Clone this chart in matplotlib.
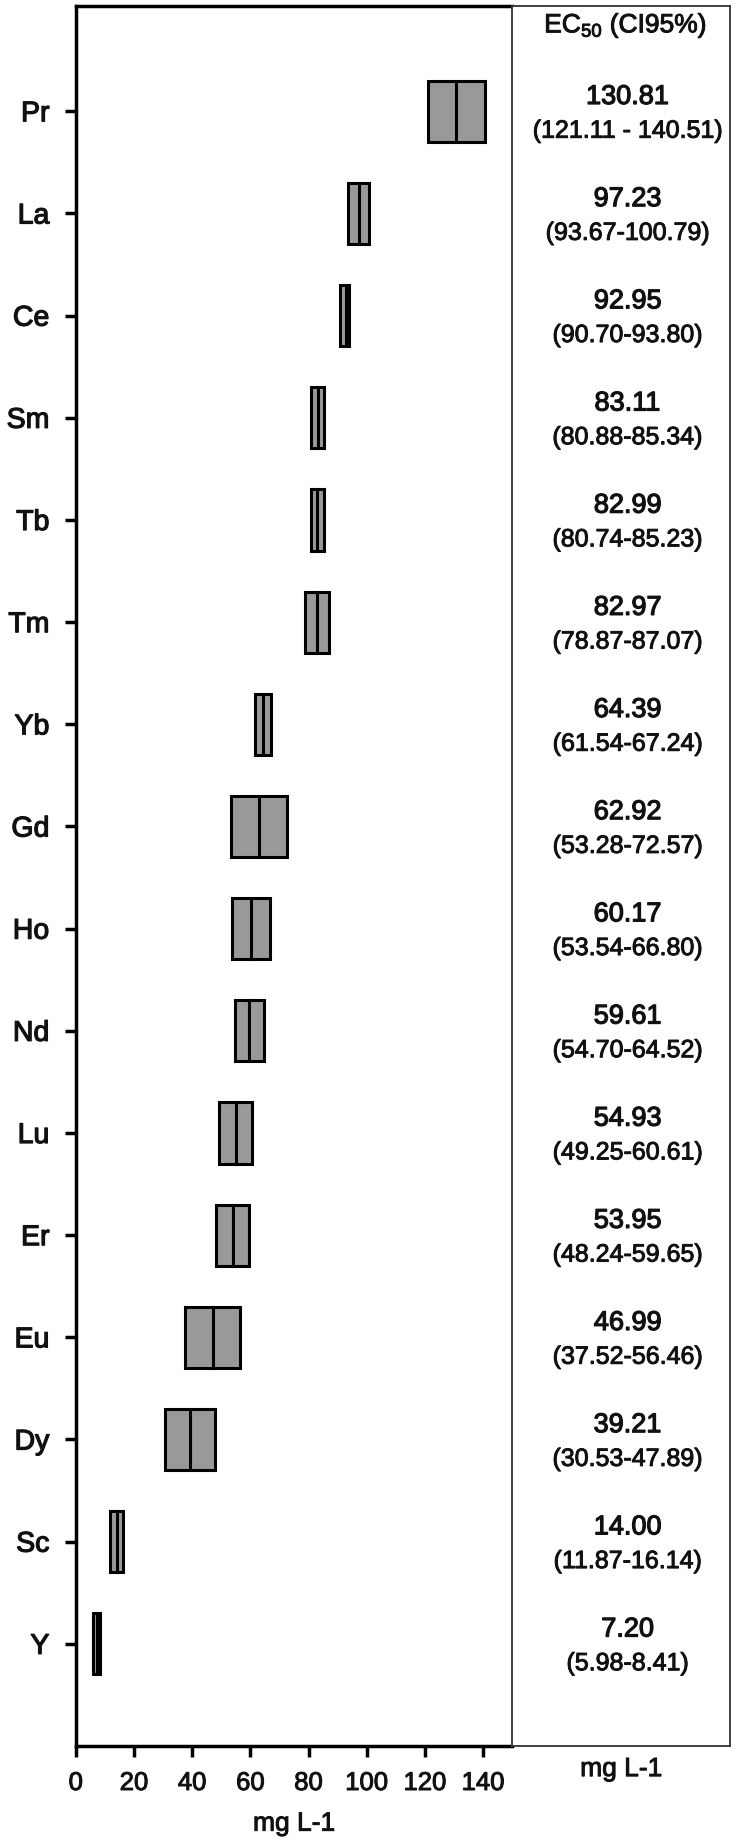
import matplotlib.pyplot as plt
import matplotlib.patheffects as pe
from matplotlib.patches import Rectangle

plt.rcParams["font.family"] = ["Liberation Sans", "DejaVu Sans"]
plt.rcParams["mathtext.fontset"] = "custom"
plt.rcParams["mathtext.rm"] = "Liberation Sans"

# ======================= Data (top to bottom) ==========================
elements = ["Pr", "La", "Ce", "Sm", "Tb", "Tm", "Yb", "Gd",
            "Ho", "Nd", "Lu", "Er", "Eu", "Dy", "Sc", "Y"]
ec50 = [130.81, 97.23, 92.95, 83.11, 82.99, 82.97, 64.39, 62.92,
        60.17, 59.61, 54.93, 53.95, 46.99, 39.21, 14.00, 7.20]
ci_low = [121.11, 93.67, 90.70, 80.88, 80.74, 78.87, 61.54, 53.28,
          53.54, 54.70, 49.25, 48.24, 37.52, 30.53, 11.87, 5.98]
ci_high = [140.51, 100.79, 93.80, 85.34, 85.23, 87.07, 67.24, 72.57,
           66.80, 64.52, 60.61, 59.65, 56.46, 47.89, 16.14, 8.41]
ci_labels = ["(121.11 - 140.51)", "(93.67-100.79)", "(90.70-93.80)",
             "(80.88-85.34)", "(80.74-85.23)", "(78.87-87.07)",
             "(61.54-67.24)", "(53.28-72.57)", "(53.54-66.80)",
             "(54.70-64.52)", "(49.25-60.61)", "(48.24-59.65)",
             "(37.52-56.46)", "(30.53-47.89)", "(11.87-16.14)",
             "(5.98-8.41)"]

n = len(elements)
ypos = [n - 1 - i for i in range(n)]
box_h = 0.6

# slightly heavier glyphs, like the scanned original
heavy = [pe.withStroke(linewidth=0.9, foreground="#111111")]
medium = [pe.withStroke(linewidth=0.7, foreground="#111111")]

fig = plt.figure(figsize=(7.36, 18.41), dpi=100)
ax = fig.add_axes([0.103, 0.0516, 0.593, 0.9451])
panel = fig.add_axes([0.696, 0.0516, 0.296, 0.9451])

# ---------------- boxes ----------------
for y, lo, hi, mid in zip(ypos, ci_low, ci_high, ec50):
    ax.add_patch(Rectangle((lo, y - box_h / 2), hi - lo, box_h,
                           facecolor="#999999", edgecolor="black", lw=2.2))
    ax.plot([mid, mid], [y - box_h / 2, y + box_h / 2], color="black", lw=2.2)

ax.set_xlim(0, 150)
ax.set_ylim(-1.0, n - 1 + 1.03)
ax.set_xticks(range(0, 141, 20))
ax.set_yticks(ypos)
ax.set_yticklabels(elements)
ax.tick_params(axis="y", length=8, width=2.5, pad=11, labelsize=20.5,
               labelcolor="#111111")
ax.tick_params(axis="x", length=8, width=2.5, pad=10, labelsize=18.5,
               labelcolor="#111111")
for tick in ax.yaxis.get_major_ticks():
    tick.label1.set_path_effects(heavy)
for tick in ax.xaxis.get_major_ticks():
    tick.label1.set_path_effects(medium)
ax.set_xlabel("mg L-1", fontsize=19, labelpad=12, color="#111111",
              path_effects=medium)
for side in ["left", "bottom", "top"]:
    ax.spines[side].set_linewidth(2.5)
ax.spines["right"].set_visible(False)

# ---------------- right panel ----------------
panel.set_xlim(0, 1)
panel.set_ylim(ax.get_ylim())
panel.set_xticks([])
panel.set_yticks([])
for side in panel.spines:
    panel.spines[side].set_linewidth(1.3)
    panel.spines[side].set_color("#333333")

panel.text(0.52, n - 1 + 0.84, "EC$_{\\mathregular{50}}$ (CI95%)",
           ha="center", va="center", fontsize=19, color="#111111",
           path_effects=medium)
for y, mid, lab in zip(ypos, ec50, ci_labels):
    panel.text(0.53, y + 0.14, f"{mid:.2f}", ha="center", va="center",
               fontsize=19.5, color="#111111", path_effects=heavy)
    panel.text(0.53, y - 0.19, lab, ha="center", va="center", fontsize=18,
               color="#111111", path_effects=medium)
panel.set_xlabel("mg L-1", fontsize=19, labelpad=8, color="#111111",
                 path_effects=medium)

fig.savefig("out.png", dpi=100)
